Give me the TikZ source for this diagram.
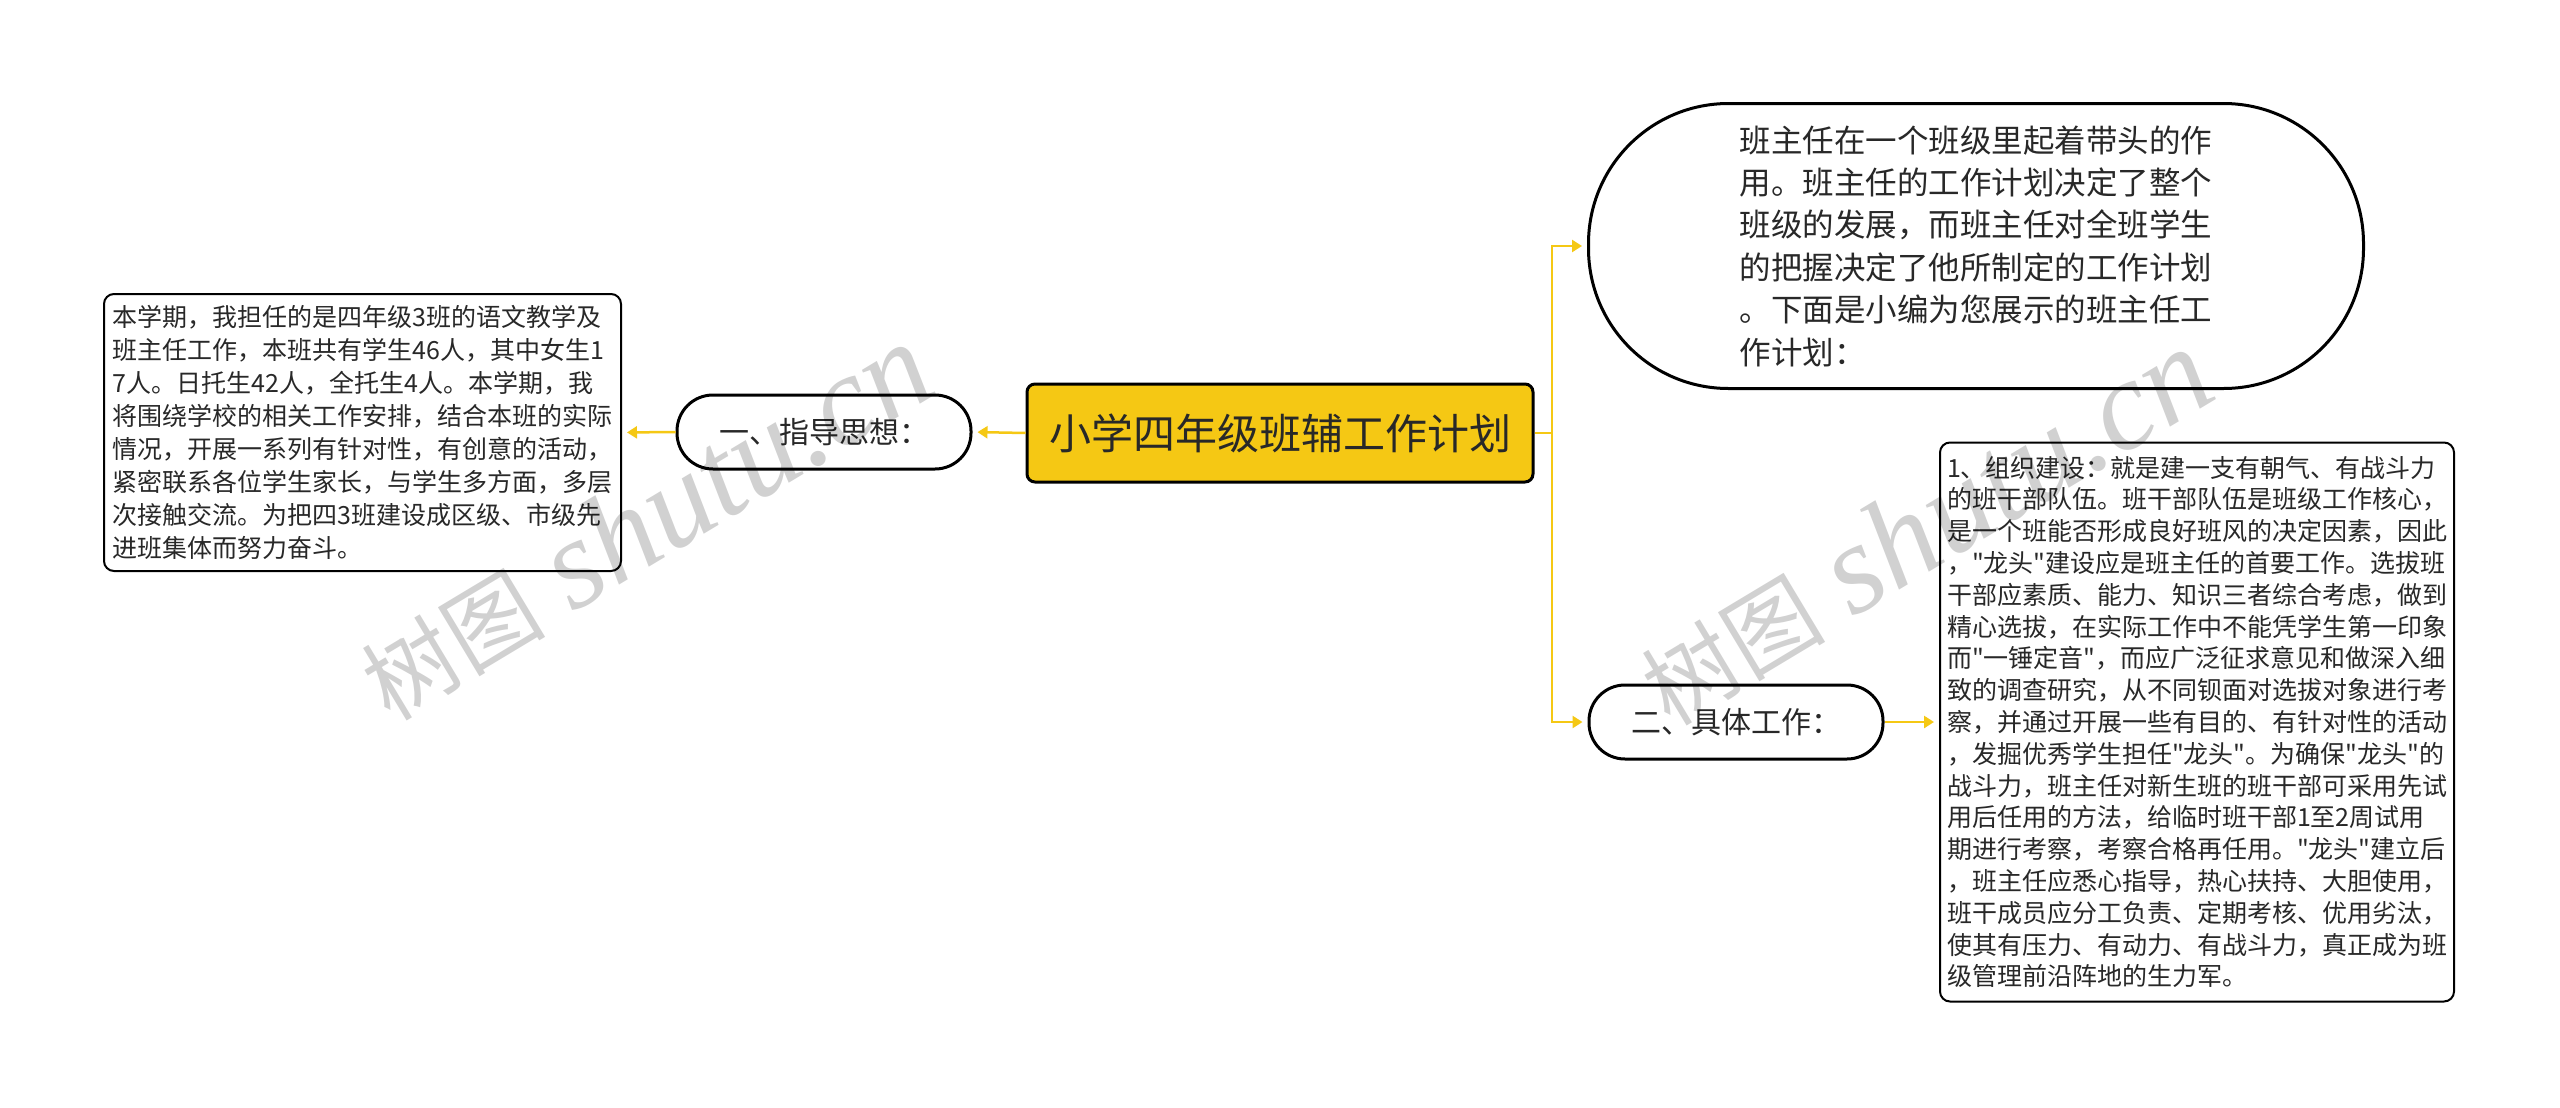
\documentclass[tikz,border=0pt]{standalone}
\usepackage{fontspec}
\usetikzlibrary{arrows.meta}
\newfontfamily\cjk{Noto Sans CJK SC}
\newfontfamily\wmserif{Liberation Serif}
\definecolor{gold}{RGB}{245,200,20}
\definecolor{txt}{RGB}{40,40,40}
\tikzset{
  base/.style={draw=black, font=\cjk, text=txt},
  topic/.style={base, fill=gold, line width=1.5pt, rounded corners=4pt,
    minimum width=253pt, minimum height=49pt, inner sep=0pt},
  pill/.style={base, fill=white, line width=1.5pt, rounded corners=18pt,
    minimum width=147pt, minimum height=37pt, inner sep=0pt},
  bigpill/.style={base, fill=white, line width=1.5pt, rounded corners=70pt,
    minimum width=387.5pt, minimum height=142.5pt, inner sep=0pt, align=left},
  textbox/.style={base, fill=white, line width=1pt, rounded corners=5pt,
    inner sep=0pt, align=left},
  conn/.style={draw=gold, line width=1.25pt},
  arr/.style={conn, -{Triangle[length=5pt,width=6pt]}, shorten >=2.5pt},
  wm/.style={text=black, text opacity=0.18, rotate=31, inner sep=0pt}
}
\newcommand{\wmtext}{{\cjk\fontsize{46pt}{50pt}\selectfont 树图}\hspace{14pt}{\wmserif\itshape\fontsize{64pt}{68pt}\selectfont shutu.cn}}
\begin{document}
\begin{tikzpicture}[x=0.5pt, y=-0.5pt]
\path[use as bounding box, fill=white] (0,0) rectangle (2560,1108);

\node[topic, font=\cjk\fontsize{21pt}{25pt}\selectfont] (c) at (1280,433) {小学四年级班辅工作计划};

\node[pill, font=\cjk\fontsize{15pt}{18pt}\selectfont] (p1) at (824,432) {一、指导思想：};

\node[textbox, minimum width=258.5pt, minimum height=138.5pt,
  font=\cjk\fontsize{12.5pt}{16.5pt}\selectfont] (lt) at (362.5,432.5) {%
本学期，我担任的是四年级3班的语文教学及\\
班主任工作，本班共有学生46人，其中女生1\\
7人。日托生42人，全托生4人。本学期，我\\
将围绕学校的相关工作安排，结合本班的实际\\
情况，开展一系列有针对性，有创意的活动，\\
紧密联系各位学生家长，与学生多方面，多层\\
次接触交流。为把四3班建设成区级、市级先\\
进班集体而努力奋斗。};

\node[bigpill, font=\cjk\fontsize{15.75pt}{21.2pt}\selectfont] (t1) at (1976,246) {%
班主任在一个班级里起着带头的作\\
用。班主任的工作计划决定了整个\\
班级的发展，而班主任对全班学生\\
的把握决定了他所制定的工作计划\\
。下面是小编为您展示的班主任工\\
作计划：};

\node[pill, font=\cjk\fontsize{15pt}{18pt}\selectfont] (p2) at (1736,722) {二、具体工作：};

\node[textbox, minimum width=257pt, minimum height=279.5pt,
  font=\cjk\fontsize{12.5pt}{15.9pt}\selectfont] (rt) at (2197,722) {%
1、组织建设：就是建一支有朝气、有战斗力\\
的班干部队伍。班干部队伍是班级工作核心，\\
是一个班能否形成良好班风的决定因素，因此\\
，"龙头"建设应是班主任的首要工作。选拔班\\
干部应素质、能力、知识三者综合考虑，做到\\
精心选拔，在实际工作中不能凭学生第一印象\\
而"一锤定音"，而应广泛征求意见和做深入细\\
致的调查研究，从不同钡面对选拔对象进行考\\
察，并通过开展一些有目的、有针对性的活动\\
，发掘优秀学生担任"龙头"。为确保"龙头"的\\
战斗力，班主任对新生班的班干部可采用先试\\
用后任用的方法，给临时班干部1至2周试用\\
期进行考察，考察合格再任用。"龙头"建立后\\
，班主任应悉心指导，热心扶持、大胆使用，\\
班干成员应分工负责、定期考核、优用劣汰，\\
使其有压力、有动力、有战斗力，真正成为班\\
级管理前沿阵地的生力军。};

\coordinate (j) at (1552,433);
\draw[conn] (c.east) -- (j);
\draw[arr] (j) |- (t1.west);
\draw[arr] (j) |- (p2.west);
\draw[arr] (c.west) -- (p1.east);
\draw[arr] (p1.west) -- (lt.east);
\draw[arr] (p2.east) -- (rt.west);

\node[wm] (w1) at (645,522) {\wmtext};
\node[wm] (w2) at (1925,527) {\wmtext};
\end{tikzpicture}
\end{document}
